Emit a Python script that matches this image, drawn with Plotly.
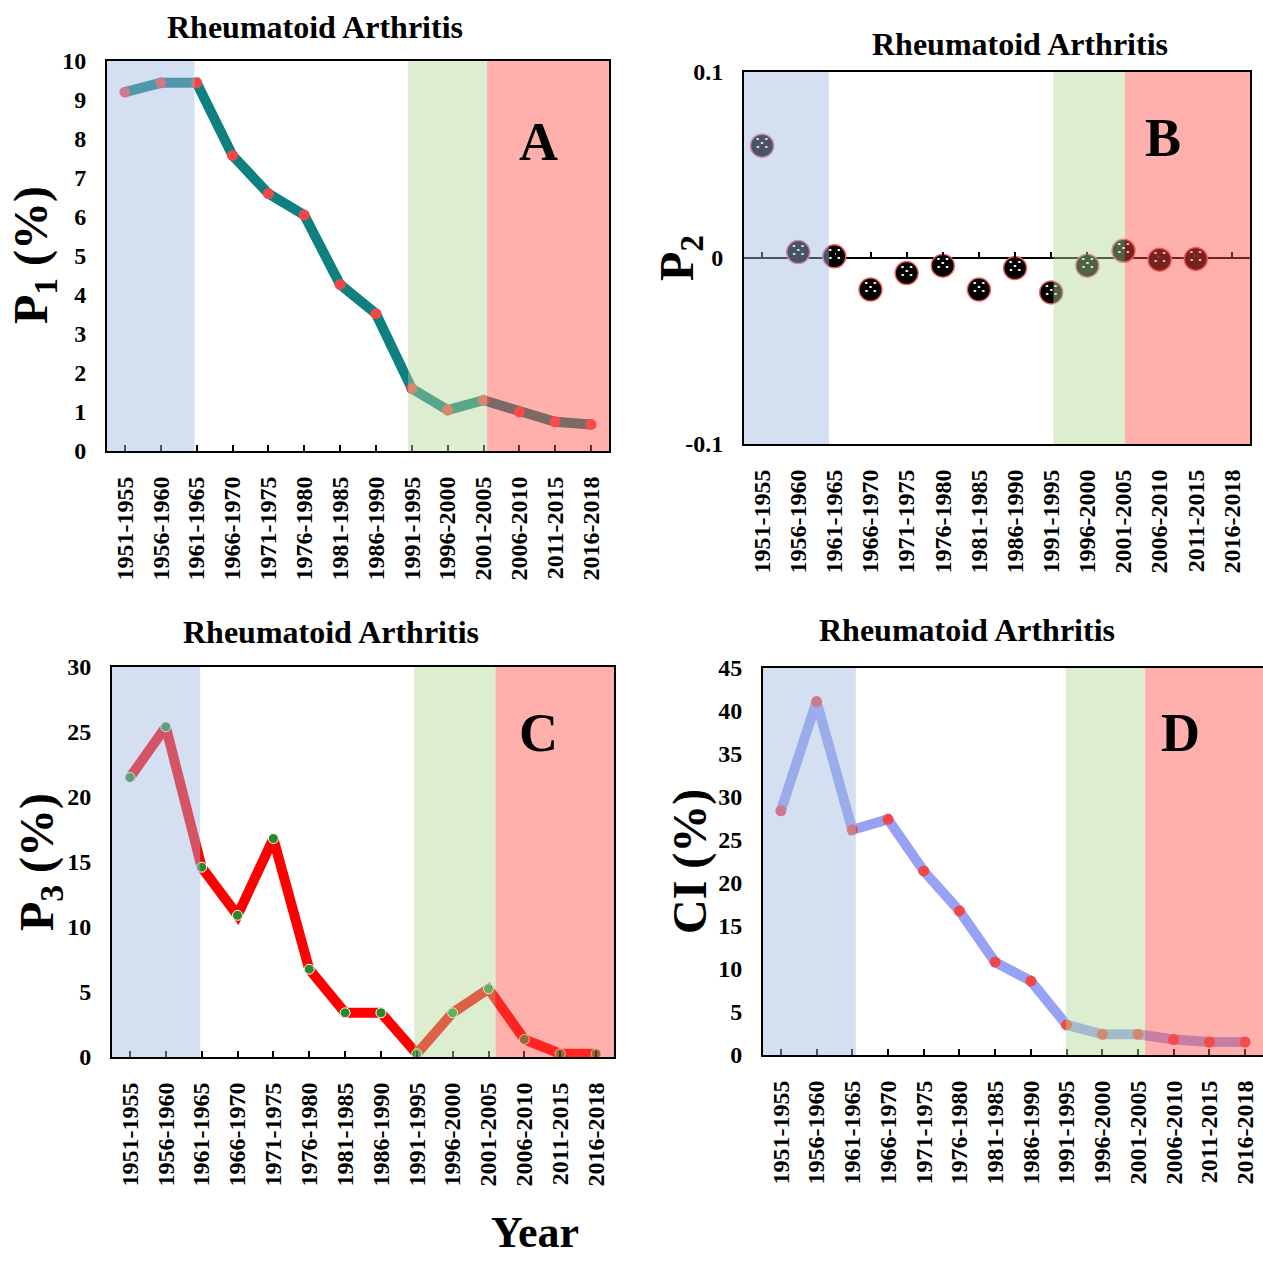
import plotly.graph_objects as go

# ---- data -------------------------------------------------------------
periods = ["1951-1955", "1956-1960", "1961-1965", "1966-1970", "1971-1975",
           "1976-1980", "1981-1985", "1986-1990", "1991-1995", "1996-2000",
           "2001-2005", "2006-2010", "2011-2015", "2016-2018"]

p1 = [9.2, 9.44, 9.44, 7.58, 6.6, 6.05, 4.27, 3.52, 1.6, 1.05, 1.3, 1.0, 0.75, 0.68]
p2 = [0.0604, 0.0032, 0.0009, -0.017, -0.0081, -0.0041, -0.017, -0.0054,
      -0.0185, -0.0041, 0.0039, -0.0009, -0.0005, None]
p3 = [21.5, 25.4, 14.6, 10.9, 16.8, 6.75, 3.4, 3.4, 0.25, 3.4, 5.25, 1.35, 0.25, 0.25]
ci = [28.4, 41.1, 26.2, 27.4, 21.4, 16.75, 10.8, 8.6, 3.5, 2.4, 2.4, 1.8, 1.5, 1.5]

# ---- page geometry ----------------------------------------------------
W, H = 1263, 1262
SERIF = "Liberation Serif, Times New Roman, serif"


def fx(x):
    return x / W


def fy(y):
    return 1 - y / H


fig = go.Figure()

# ---- traces -----------------------------------------------------------
fig.add_trace(go.Scatter(
    x=periods, y=p1, mode="lines+markers", xaxis="x", yaxis="y",
    line=dict(color="#0f8080", width=10),
    marker=dict(color="#f04848", size=11),
    cliponaxis=False, showlegend=False))

fig.add_trace(go.Scatter(
    x=periods, y=p2, mode="markers+text", xaxis="x2", yaxis="y2",
    text=["⁙" if v is not None else "" for v in p2],
    textposition="middle center",
    textfont=dict(color="white", size=22, family="DejaVu Sans"),
    marker=dict(color="black", size=23, line=dict(color="#f06060", width=1.5)),
    cliponaxis=False, showlegend=False))

# carrier for the tick marks sitting on the zero line of panel B
fig.add_trace(go.Scatter(
    x=periods, y=p2, mode="markers", xaxis="x5", yaxis="y2",
    marker=dict(opacity=0), hoverinfo="skip", showlegend=False))

fig.add_trace(go.Scatter(
    x=periods, y=p3, mode="lines+markers", xaxis="x3", yaxis="y3",
    line=dict(color="#ff0000", width=10),
    marker=dict(color="#2a8a2a", size=10, line=dict(color="white", width=1)),
    cliponaxis=False, showlegend=False))

fig.add_trace(go.Scatter(
    x=periods, y=ci, mode="lines+markers", xaxis="x4", yaxis="y4",
    line=dict(color="#98a2f4", width=10),
    marker=dict(color="#f04848", size=11),
    cliponaxis=False, showlegend=False))

# ---- axes -------------------------------------------------------------
tickfont = dict(family=SERIF, size=24, color="black", weight="bold")


def xaxis(domain, anchor, ticks="inside"):
    return dict(domain=domain, anchor=anchor, type="category",
                categoryorder="array", categoryarray=periods,
                range=[-0.5, 13.5], showline=True, linecolor="black",
                linewidth=2, mirror=True, ticks=ticks, ticklen=6,
                tickwidth=1.5, tickcolor="black", tickangle=-90,
                tickfont=tickfont, ticklabelstandoff=14, automargin=False,
                showgrid=False, zeroline=False, fixedrange=True)


def yaxis(domain, anchor, rng, dtick):
    return dict(domain=domain, anchor=anchor, range=rng, dtick=dtick,
                showline=True, linecolor="black", linewidth=2, mirror=True,
                ticks="", tickfont=tickfont, ticklabelstandoff=14,
                automargin=False, showgrid=False, zeroline=False,
                fixedrange=True)


dA = ([fx(107), fx(609)], [fy(451), fy(61)])
dB = ([fx(744), fx(1250)], [fy(444), fy(72)])
dC = ([fx(112), fx(614)], [fy(1057), fy(667)])
dD = ([fx(763), 1.0], [fy(1055), fy(668)])

fig.update_layout(
    xaxis=xaxis(dA[0], "y"),
    yaxis=yaxis(dA[1], "x", [0, 10], 1),
    xaxis2=xaxis(dB[0], "y2", ticks=""),
    yaxis2=dict(yaxis(dB[1], "x2", [-0.1, 0.1], 0.1),
                tickvals=[-0.1, 0, 0.1], ticktext=["-0.1", "0", "0.1"],
                zeroline=True, zerolinecolor="black", zerolinewidth=2),
    xaxis5=dict(overlaying="x2", anchor="free", position=fy(258),
                type="category", categoryorder="array", categoryarray=periods,
                range=[-0.5, 13.5], showline=False, ticks="inside",
                ticklen=6, tickwidth=1.5, tickcolor="black",
                showticklabels=False, showgrid=False, zeroline=False,
                automargin=False, fixedrange=True),
    xaxis3=xaxis(dC[0], "y3"),
    yaxis3=yaxis(dC[1], "x3", [0, 30], 5),
    xaxis4=xaxis(dD[0], "y4"),
    yaxis4=yaxis(dD[1], "x4", [0, 45], 5),
)

# ---- era bands (drawn over the data, semi-transparent) ----------------
BLUE, GREEN, RED = "rgb(160,185,225)", "rgb(180,215,150)", "rgb(255,80,70)"
bands = {
    ("x", "y"): [(-0.5, 1.94, BLUE), (7.9, 10.1, GREEN), (10.1, 13.5, RED)],
    ("x2", "y2"): [(-0.5, 1.85, BLUE), (8.06, 10.04, GREEN), (10.04, 13.5, RED)],
    ("x3", "y3"): [(-0.5, 1.96, BLUE), (7.93, 10.2, GREEN), (10.2, 13.5, RED)],
    ("x4", "y4"): [(-0.5, 2.1, BLUE), (7.98, 10.2, GREEN), (10.2, 13.5, RED)],
}
for (xr, yr), spans in bands.items():
    for x0, x1, col in spans:
        fig.add_shape(type="rect", xref=xr, yref=f"{yr} domain",
                      x0=x0, x1=x1, y0=0, y1=1, fillcolor=col,
                      opacity=0.45, line_width=0, layer="above")

# ---- text -------------------------------------------------------------
def note(text, x, y, size, angle=0):
    fig.add_annotation(text=text, x=fx(x), y=fy(y), xref="paper",
                       yref="paper", showarrow=False, textangle=angle,
                       xanchor="center", yanchor="middle",
                       font=dict(family=SERIF, size=size, color="black",
                                 weight="bold"))


for tx, ty in [(315, 27), (1020, 44), (331, 632), (967, 630)]:
    note("Rheumatoid Arthritis", tx, ty, 32)

for letter, lx, ly in [("A", 538, 142), ("B", 1163, 138),
                       ("C", 538, 733), ("D", 1180, 733)]:
    note(letter, lx, ly, 54)

note("P<sub>1</sub> (%)", 34, 255, 48, -90)
note("P<sub>2</sub>", 680, 258, 48, -90)
note("P<sub>3</sub> (%)", 40, 862, 48, -90)
note("CI (%)", 690, 862, 48, -90)
note("Year", 535, 1232, 44)

fig.update_layout(width=W, height=H,
                  margin=dict(l=0, r=0, t=0, b=0, autoexpand=False),
                  paper_bgcolor="white", plot_bgcolor="white",
                  showlegend=False)

fig.write_html("out.html")
